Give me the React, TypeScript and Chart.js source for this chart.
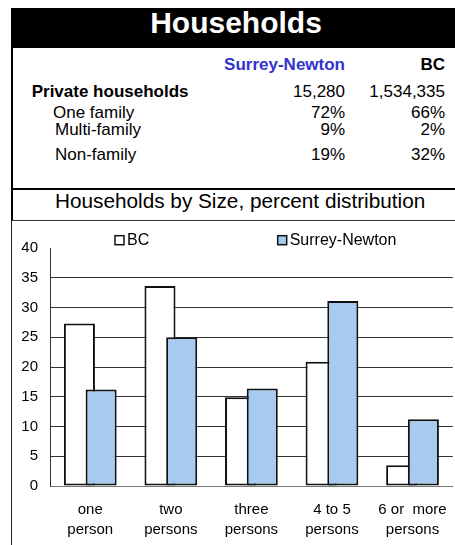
import React, { useEffect, useRef } from 'react';
import { Chart, registerables } from 'chart.js';

Chart.register(...registerables);

// ---------- data ----------
const titleText = 'Households';
const subtitleText = 'Households by Size, percent distribution';
const columnHeaders = ['Surrey-Newton', 'BC'];
const rowLabels = ['Private households', 'One family', 'Multi-family', 'Non-family'];
const surreyTable = ['15,280', '72%', '9%', '19%'];
const bcTable = ['1,534,335', '66%', '2%', '32%'];

const categories: string[][] = [
  ['one', 'person'],
  ['two', 'persons'],
  ['three', 'persons'],
  ['4 to 5', 'persons'],
  ['6 or  more', 'persons'],
];
const seriesNames = ['BC', 'Surrey-Newton'];
const bcValues = [27.3, 33.6, 14.9, 20.9, 3.5];
const surreyValues = [16.2, 25.0, 16.4, 31.1, 11.2];
const yMin = 0;
const yMax = 40;
const yStep = 5;

// ---------- styles ----------
const FONT = '"Liberation Sans", Arial, Helvetica, sans-serif';
const BLUE_TEXT = '#3333CC';
const BAR_BLUE = '#A6CAF0';

type TxtProps = {
  x: number;
  baseline: number;
  size: number;
  bold?: boolean;
  color?: string;
  align?: 'left' | 'right' | 'center';
  children: React.ReactNode;
};

function Txt({ x, baseline, size, bold, color, align = 'left', children }: TxtProps) {
  const top = baseline - 0.8465 * size;
  const style: React.CSSProperties = {
    position: 'absolute',
    top,
    height: size,
    lineHeight: `${size}px`,
    fontSize: size,
    fontFamily: FONT,
    fontWeight: bold ? 'bold' : 'normal',
    color: color || '#000',
    whiteSpace: 'pre',
  };
  if (align === 'left') {
    style.left = x;
  } else if (align === 'right') {
    style.left = x - 400;
    style.width = 400;
    style.textAlign = 'right';
  } else {
    style.left = x - 300;
    style.width = 600;
    style.textAlign = 'center';
  }
  return <div style={style}>{children}</div>;
}

const legendPlugin = {
  id: 'boxLegend',
  afterDraw(chart: any) {
    const { ctx, chartArea } = chart;
    const offsets = [65, 227.7];
    ctx.save();
    chart.data.datasets.forEach((ds: any, i: number) => {
      const bx = chartArea.left + offsets[i];
      const by = chartArea.top - 12.3;
      ctx.fillStyle = ds.backgroundColor;
      ctx.fillRect(bx, by, 9, 9);
      ctx.lineWidth = 1.5;
      ctx.strokeStyle = '#111';
      ctx.strokeRect(bx, by, 9, 9);
      ctx.fillStyle = '#000';
      ctx.font = `16px ${FONT}`;
      ctx.textBaseline = 'middle';
      ctx.textAlign = 'left';
      ctx.fillText(ds.label, bx + 12, by + 4.8);
    });
    ctx.restore();
  },
};

// draw datasets in index order so the right-hand bar overlaps the left one
const drawOrderPlugin = {
  id: 'drawOrder',
  beforeDatasetsDraw(chart: any) {
    for (let i = 0; i < chart.data.datasets.length; i++) {
      const meta = chart.getDatasetMeta(i);
      if (chart.isDatasetVisible(i)) meta.controller.draw();
    }
    return false;
  },
};

export default function App() {
  const canvasRef = useRef<HTMLCanvasElement | null>(null);

  useEffect(() => {
    if (!canvasRef.current) return;
    const chart = new Chart(canvasRef.current, {
      type: 'bar',
      data: {
        labels: categories,
        datasets: [
          {
            label: seriesNames[0],
            data: bcValues,
            backgroundColor: '#FFFFFF',
            borderColor: '#111',
            borderWidth: 2,
            borderSkipped: false,
            categoryPercentage: 0.539,
            barPercentage: 1.43,
          },
          {
            label: seriesNames[1],
            data: surreyValues,
            backgroundColor: BAR_BLUE,
            borderColor: '#111',
            borderWidth: 2,
            borderSkipped: false,
            categoryPercentage: 0.539,
            barPercentage: 1.43,
          },
        ],
      },
      options: {
        responsive: false,
        animation: false,
        devicePixelRatio: 1,
        layout: { padding: { top: 27, right: 3, left: 0, bottom: 0 } },
        plugins: {
          legend: { display: false },
          title: { display: false },
          tooltip: { enabled: false },
        },
        scales: {
          x: {
            type: 'category',
            grid: { display: false, drawTicks: false },
            border: { display: true, color: '#777', width: 1 },
            ticks: {
              color: '#000',
              font: { family: FONT, size: 15, lineHeight: 1.3333 },
              padding: 14,
              maxRotation: 0,
              autoSkip: false,
            },
            afterFit: (axis: any) => {
              axis.height = 59;
            },
          },
          y: {
            min: yMin,
            max: yMax,
            ticks: {
              stepSize: yStep,
              color: '#000',
              font: { family: FONT, size: 15 },
              padding: 12,
            },
            grid: {
              drawTicks: false,
              lineWidth: 1,
              color: (ctx: any) =>
                ctx.tick && (ctx.tick.value === yMax || ctx.tick.value === yMin)
                  ? 'rgba(0,0,0,0)'
                  : '#333',
            },
            border: { display: true, color: '#333', width: 1 },
            afterFit: (axis: any) => {
              axis.width = 38;
            },
          },
        },
      } as any,
      plugins: [legendPlugin, drawOrderPlugin],
    });
    return () => chart.destroy();
  }, []);

  const rowBaselines = [97, 118.3, 135, 160];
  const rowX = [31.7, 53, 55, 55];

  return (
    <div
      style={{
        position: 'fixed',
        left: 0,
        top: 0,
        width: 455,
        height: 545,
        overflow: 'hidden',
        background: '#fff',
        fontFamily: FONT,
      }}
    >
      {/* title bar */}
      <div style={{ position: 'absolute', left: 11, top: 8, width: 450, height: 40, background: '#000' }} />
      <Txt x={236} baseline={33.3} size={30} bold color="#fff" align="center">
        {titleText}
      </Txt>
      {/* left borders */}
      <div style={{ position: 'absolute', left: 11, top: 8, width: 2, height: 212, background: '#000' }} />
      <div style={{ position: 'absolute', left: 11, top: 220, width: 1, height: 325, background: '#222' }} />
      {/* column headers */}
      <Txt x={345} baseline={70.7} size={17} bold color={BLUE_TEXT} align="right">
        {columnHeaders[0]}
      </Txt>
      <Txt x={445} baseline={70.7} size={17} bold align="right">
        {columnHeaders[1]}
      </Txt>
      {rowLabels.map((lbl, i) => (
        <React.Fragment key={lbl}>
          <Txt x={rowX[i]} baseline={rowBaselines[i]} size={17} bold={i === 0}>
            {lbl}
          </Txt>
          <Txt x={345} baseline={rowBaselines[i]} size={17} align="right">
            {surreyTable[i]}
          </Txt>
          <Txt x={445} baseline={rowBaselines[i]} size={17} align="right">
            {bcTable[i]}
          </Txt>
        </React.Fragment>
      ))}
      {/* separator lines */}
      <div style={{ position: 'absolute', left: 11, top: 188, width: 450, height: 2, background: '#000' }} />
      <Txt x={55} baseline={209} size={20.75}>
        {subtitleText}
      </Txt>
      <div style={{ position: 'absolute', left: 11, top: 220, width: 450, height: 1, background: '#333' }} />
      <canvas
        ref={canvasRef}
        width={449}
        height={324}
        style={{ position: 'absolute', left: 12, top: 221, width: 449, height: 324 }}
      />
    </div>
  );
}
